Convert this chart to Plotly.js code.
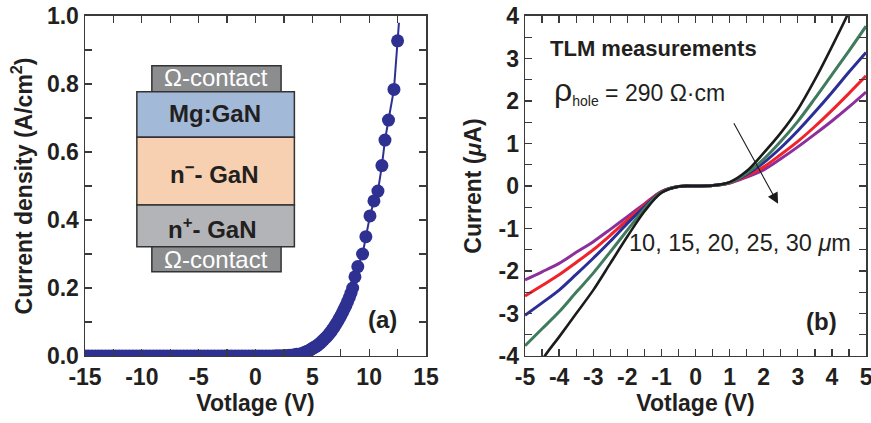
<!DOCTYPE html>
<html>
<head>
<meta charset="utf-8">
<script src="https://cdn.plot.ly/plotly-3.0.1.min.js"></script>
<style>html,body{margin:0;padding:0;background:#fff;}#chart{width:871px;height:423px;}</style>
</head>
<body>
<div id="chart"></div>
<script>
// ---- Panel (a): forward J-V of the diode ----
const voltA = [-15.0,-14.7,-14.4,-14.1,-13.8,-13.5,-13.2,-12.9,-12.6,-12.3,-12.0,-11.7,-11.4,-11.1,-10.8,-10.5,-10.2,-9.9,-9.6,-9.3,
  -9.0,-8.7,-8.4,-8.1,-7.8,-7.5,-7.2,-6.9,-6.6,-6.3,-6.0,-5.7,-5.4,-5.1,-4.8,-4.5,-4.2,-3.9,-3.6,-3.3,
  -3.0,-2.7,-2.4,-2.1,-1.8,-1.5,-1.2,-0.9,-0.6,-0.3,0.0,0.3,0.6,0.9,1.2,1.5,1.8,2.1,2.4,2.7,
  3.0,3.3,3.6,3.9,4.2,4.35,4.5,4.65,4.8,4.95,5.1,5.25,5.4,5.55,5.7,5.85,6.0,6.15,6.3,6.45,
  6.6,6.75,6.9,7.05,7.2,7.35,7.5,7.65,7.8,7.95,8.1,8.25,8.4,8.55,8.75,9.0,9.42,9.71,10.07,10.42,
  10.77,11.12,11.39,11.7,12.18,12.5,12.62];
const currA = [0,0,0,0,0,0,0,0,0,0,0,0,0,0,0,0,0,0,0,0,
  0,0,0,0,0,0,0,0,0,0,0,0,0,0,0,0,0,0,0,0,
  0,0,0,0,0,0,0,0,0,0,0,0,0,0,0,0,0.0005,0.001,0.001,0.0015,
  0.002,0.003,0.005,0.006,0.009,0.011,0.013,0.015,0.018,0.021,0.024,0.027,0.03,0.034,0.038,0.043,0.048,0.053,0.058,0.064,
  0.07,0.077,0.084,0.092,0.1,0.109,0.118,0.128,0.138,0.148,0.16,0.172,0.185,0.2,0.233,0.263,0.30,0.351,0.412,0.456,
  0.485,0.56,0.635,0.694,0.784,0.927,0.98];
// the last point belongs to the drawn line only (no marker)

// ---- Panel (b): TLM I-V curves ----
const voltB = [-5,-4.5,-4,-3.5,-3,-2.5,-2,-1.5,-1,-0.5,0,0.5,1,1.5,2,2.5,3,3.5,4,4.5,5];
const i10 = [-5.0,-4.1,-3.55,-3.0,-2.45,-1.82,-1.19,-0.6,-0.16,-0.01,0,0.01,0.09,0.35,0.78,1.25,1.8,2.5,3.28,4.1,5.0];
const i15 = [-3.76,-3.36,-2.96,-2.5,-2.05,-1.55,-1.04,-0.54,-0.15,-0.01,0,0.01,0.08,0.3,0.63,1.05,1.52,2.06,2.62,3.18,3.76];
const i20 = [-3.04,-2.75,-2.45,-2.08,-1.7,-1.3,-0.88,-0.49,-0.14,-0.01,0,0.01,0.08,0.27,0.55,0.9,1.3,1.74,2.2,2.68,3.14];
const i25 = [-2.59,-2.34,-2.09,-1.8,-1.5,-1.16,-0.8,-0.45,-0.13,-0.01,0,0.01,0.07,0.24,0.45,0.74,1.05,1.4,1.78,2.18,2.59];
const i30 = [-2.21,-2.02,-1.82,-1.56,-1.31,-1.02,-0.72,-0.42,-0.13,-0.01,0,0.01,0.07,0.21,0.38,0.64,0.92,1.22,1.53,1.86,2.21];
const seriesNames = ['10 μm','15 μm','20 μm','25 μm','30 μm'];
const seriesColors = ['#1b1b1b','#3f7b5c','#2b2e96','#ef2329','#8c2f9a'];

const xTicksA = [-15,-10,-5,0,5,10,15];
const yTicksA = [0,0.2,0.4,0.6,0.8,1.0];
const xTicksB = [-5,-4,-3,-2,-1,0,1,2,3,4,5];
const yTicksB = [-4,-3,-2,-1,0,1,2,3,4];

const FONT = 'Liberation Sans, Arial, Helvetica, sans-serif';
const TXT = '#231f20';
const AX = '#3a3a3a';

const traces = [
  {x: voltA, y: currA, xaxis:'x', yaxis:'y', mode:'lines', line:{color:'#2e3192', width:2}, showlegend:false, hoverinfo:'skip'},
  {x: voltA.slice(0,-1), y: currA.slice(0,-1), xaxis:'x', yaxis:'y', mode:'markers',
   marker:{color:'#2e3192', size:13, line:{width:0}}, showlegend:false, name:'J-V'}
];
const ys = [i10,i15,i20,i25,i30];
for (let k = 4; k >= 0; k--) {
  traces.push({x: voltB, y: ys[k], xaxis:'x2', yaxis:'y2', mode:'lines', name: seriesNames[k],
    line:{color: seriesColors[k], width: k===0 ? 2.6 : 3, shape:'spline', smoothing:0.9}, showlegend:false});
}

function axisCommon(extra) {
  return Object.assign({
    showline:true, linecolor:AX, linewidth:1.5, mirror:'allticks',
    ticks:'inside', ticklen:7, tickwidth:1.3, tickcolor:AX,
    showgrid:false, zeroline:false, ticklabeloverflow:'allow',
    tickfont:{family:FONT, size:23, color:TXT, weight:'bold'},
    automargin:false, fixedrange:true
  }, extra);
}
const minorTicks = d => ({dtick:d, tick0:0, ticks:'inside', ticklen:7, tickcolor:AX, tickwidth:1.3, showgrid:false});

const titleFont = {family:FONT, size:23, color:TXT, weight:'bold'};

function note(x, y, text, size, color, extra) {
  return Object.assign({xref:'paper', yref:'paper', x:x, y:y, text:text, showarrow:false,
    xanchor:'center', yanchor:'middle', font:{family:FONT, size:size, color:color}}, extra || {});
}

const layout = {
  width:871, height:423,
  margin:{l:0, r:0, t:0, b:0},
  paper_bgcolor:'#fff', plot_bgcolor:'#fff',
  font:{family:FONT, color:TXT},
  showlegend:false,
  xaxis: axisCommon({domain:[0.0976,0.4891], range:[-15,15], tickvals:xTicksA, ticktext:xTicksA.map(String),
    minor:minorTicks(2.5), anchor:'y', title:{text:'Votlage (V)', font:titleFont, standoff:6}}),
  yaxis: axisCommon({domain:[0.1584,0.9622], range:[0,1.0], tickvals:yTicksA, ticktext:yTicksA.map(v=>v.toFixed(1)),
    minor:minorTicks(0.1), anchor:'x', title:{text:'Current density (A/cm<sup>2</sup>)', font:titleFont, standoff:8}}),
  xaxis2: axisCommon({domain:[0.6028,0.9943], range:[-5,5], tickvals:xTicksB, ticktext:xTicksB.map(String),
    minor:minorTicks(0.5), anchor:'y2', title:{text:'Votlage (V)', font:titleFont, standoff:6}}),
  yaxis2: axisCommon({domain:[0.1584,0.9622], range:[-4,4], tickvals:yTicksB, ticktext:yTicksB.map(String),
    minor:minorTicks(0.5), anchor:'x2', title:{text:'Current (<i>μ</i>A)', font:titleFont, standoff:10}}),
  shapes: [
    {type:'rect', xref:'x domain', yref:'y domain', x0:0.196, x1:0.575, y0:0.777, y1:0.854, fillcolor:'#8c8d8f', line:{color:'#333', width:1.5}, layer:'above'},
    {type:'rect', xref:'x domain', yref:'y domain', x0:0.152, x1:0.614, y0:0.643, y1:0.777, fillcolor:'#a3b9d8', line:{color:'#333', width:1.5}, layer:'above'},
    {type:'rect', xref:'x domain', yref:'y domain', x0:0.152, x1:0.614, y0:0.444, y1:0.643, fillcolor:'#f6d0b0', line:{color:'#333', width:1.5}, layer:'above'},
    {type:'rect', xref:'x domain', yref:'y domain', x0:0.152, x1:0.614, y0:0.321, y1:0.444, fillcolor:'#b2b4b7', line:{color:'#333', width:1.5}, layer:'above'},
    {type:'rect', xref:'x domain', yref:'y domain', x0:0.196, x1:0.575, y0:0.248, y1:0.321, fillcolor:'#8c8d8f', line:{color:'#333', width:1.5}, layer:'above'}
  ],
  annotations: [
    note(0.248, 0.816, 'Ω-contact', 24, '#ffffff'),
    note(0.2468, 0.7305, '<b>Mg:GaN</b>', 24, TXT),
    note(0.2468, 0.591, '<b>n<sup>−</sup>- GaN</b>', 24, TXT),
    note(0.2434, 0.461, '<b>n<sup>+</sup>- GaN</b>', 24, TXT),
    note(0.248, 0.3877, 'Ω-contact', 24, '#ffffff'),
    note(0.4397, 0.2435, '<b>(a)</b>', 24, TXT),
    note(0.9437, 0.2388, '<b>(b)</b>', 24, TXT),
    note(0.6292, 0.8842, '<b>TLM measurements</b>', 22, TXT, {xanchor:'left'}),
    note(0.6338, 0.785, '<span style="font-size:32px">ρ</span><sub><span style="font-size:14px">hole</span></sub> = 290 Ω·cm', 23, TXT, {xanchor:'left'}),
    note(0.8496, 0.4255, '10, 15, 20, 25, 30 <i>μ</i>m', 23.5, TXT),
    {xref:'x2', yref:'y2', x:2.42, y:-0.42, axref:'x2', ayref:'y2', ax:1.1, ay:1.51, text:'', showarrow:true,
     arrowhead:2, arrowsize:2, arrowwidth:1.1, arrowcolor:'#1b1b1b', standoff:0}
  ]
};

Plotly.newPlot('chart', traces, layout, {staticPlot:true, displayModeBar:false});
</script>
</body>
</html>
